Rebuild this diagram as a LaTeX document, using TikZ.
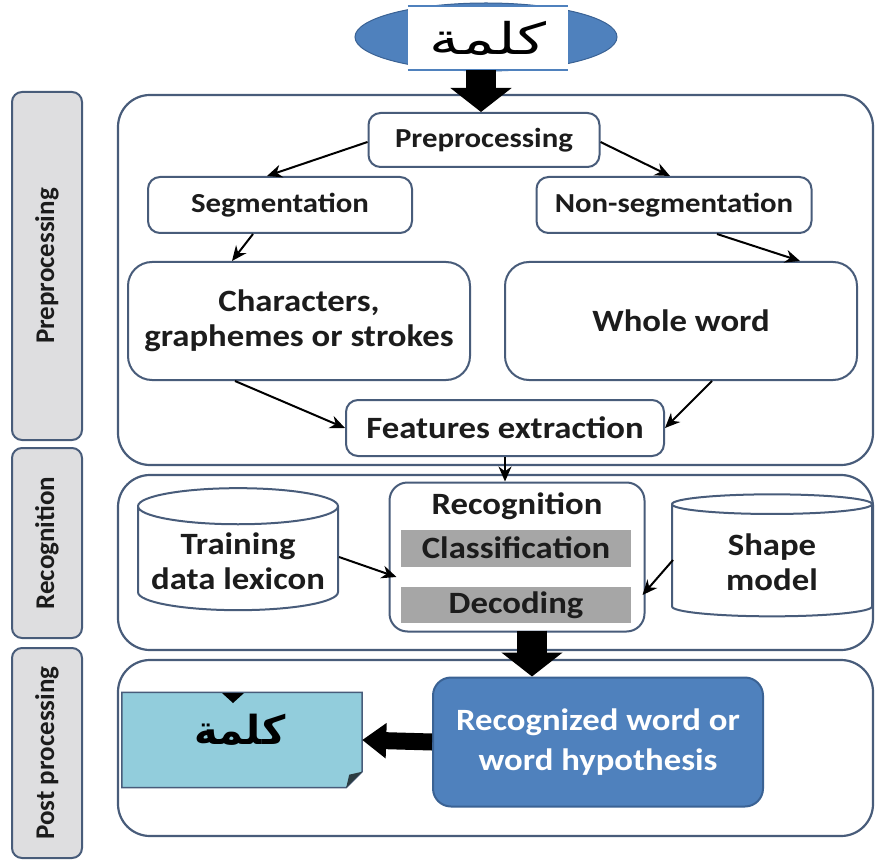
\documentclass[tikz,border=0pt]{standalone}
\usepackage{fontspec}
\setmainfont{Carlito}
\newfontfamily\boxfont{Carlito}[FakeStretch=1.12]
\newfontfamily\arabicfont[Script=Arabic]{DejaVu Sans}
\TeXXeTstate=1
\usetikzlibrary{shapes.geometric,arrows.meta,calc}

\definecolor{frame}{RGB}{72,92,122}
\definecolor{labelgray}{RGB}{222,222,224}
\definecolor{bargray}{RGB}{166,166,166}
\definecolor{docblue}{RGB}{146,205,220}
\definecolor{wordblue}{RGB}{79,129,189}
\definecolor{wordedge}{RGB}{58,98,148}
\definecolor{inkdark}{RGB}{28,28,28}

\newcommand{\smallbold}{\boxfont\bfseries\fontsize{27.5}{32}\selectfont}
\newcommand{\largebold}{\boxfont\bfseries\fontsize{31}{35}\selectfont}

\tikzset{
  container/.style={draw=frame, line width=2.2pt, rounded corners=32pt, fill=white},
  stage/.style={draw=frame, line width=2pt, rounded corners=10pt, fill=labelgray,
    rotate=90, text=inkdark, font=\bfseries\fontsize{27}{30}\selectfont},
  procbox/.style={draw=frame, line width=2pt, rounded corners=12pt, fill=white,
    text=inkdark, align=center, font=\smallbold},
  bigbox/.style={procbox, rounded corners=24pt, font=\largebold},
  bar/.style={fill=bargray, text=inkdark, font=\largebold},
  store/.style={cylinder, shape border rotate=90, aspect=0.2, draw=frame, line width=2pt,
    fill=white, text=inkdark, align=center, font=\largebold},
  flow/.style={-{Stealth[length=15pt,width=13pt]}, line width=2pt, black},
  block/.style={line width=#1, black, -{Triangle[length=24pt,width=2*#1]}},
}

\begin{document}
\begin{tikzpicture}[x=1pt,y=-1pt]
\useasboundingbox (0,0) rectangle (877,866);

% stage containers
\draw[container] (118,95) rectangle (873,465);
\draw[container] (118,475) rectangle (873,650);
\draw[container] (118,660) rectangle (873,836);

% stage labels
\node[stage, minimum width=348pt, minimum height=70pt] (lblpre) at (47,266) {Preprocessing};
\node[stage, minimum width=190pt, minimum height=70pt] (lblrec) at (47,543) {Recognition};
\node[stage, minimum width=210pt, minimum height=70pt] (lblpost) at (47,753) {Post processing};

% input word on its badge
\fill[wordblue, draw=wordedge, line width=1pt] (486,37) ellipse [x radius=131, y radius=34];
\node[fill=white, minimum width=160pt, minimum height=64pt, inner sep=0pt] (input) at (488,38)
  {\scalebox{1.6}[1.15]{\arabicfont\fontsize{38}{42}\selectfont\beginR كلمة\endR}};
\draw[wordblue, line width=1.8pt] (input.north west) -- (input.north east);
\draw[wordblue, line width=1.8pt] (input.south west) -- (input.south east);
\coordinate (inputbase) at (481,70);

% preprocessing stage
\node[procbox, minimum width=231pt, minimum height=54pt] (pre) at (484,140) {Preprocessing};
\node[procbox, minimum width=264pt, minimum height=56pt] (seg) at (280,205) {Segmentation};
\node[procbox, minimum width=275pt, minimum height=56pt] (nonseg) at (674,205) {Non-segmentation};
\node[bigbox, minimum width=342pt, minimum height=118pt] (chars) at (299,321) {Characters,\\graphemes or strokes};
\node[bigbox, minimum width=352pt, minimum height=118pt] (whole) at (681,321) {Whole word};
\node[procbox, font=\largebold, minimum width=318pt, minimum height=56pt] (feat) at (505,428) {Features extraction};

% recognition stage
\node[procbox, rounded corners=18pt, minimum width=255pt, minimum height=149pt] (recbox) at (517,557) {};
\node[text=inkdark, font=\largebold] (rectitle) at (517,506) {Recognition};
\node[bar, minimum width=230pt, minimum height=37pt] (classbar) at (516,548) {Classification};
\node[bar, minimum width=230pt, minimum height=36pt] (decbar) at (516,605) {Decoding};
\node[store, minimum width=200pt, minimum height=122pt] (train) at (238,561) {Training\\data lexicon};
\node[store, minimum width=200pt, minimum height=122pt] (shape) at (772,562) {Shape\\model};

% post processing stage
\node[draw=wordedge, line width=2pt, fill=wordblue, rounded corners=18pt, text=white,
  align=center, font=\boxfont\bfseries\fontsize{31}{40}\selectfont,
  minimum width=330pt, minimum height=129pt] (recword) at (598,742) {Recognized word or\\word hypothesis};
\node[minimum width=240pt, minimum height=95pt, inner sep=0pt] (doc) at (242,740) {};
\fill[docblue, draw=frame, line width=1.5pt]
  (doc.north west) -- (doc.north east) -- ($(doc.south east)+(0,-16)$)
  -- ($(doc.south east)+(-16,0)$) -- (doc.south west) -- cycle;
\fill[black!70!docblue] ($(doc.south east)+(0,-16)$) -- ($(doc.south east)+(-16,0)$)
  -- ($(doc.south east)+(-13,-13)$) -- cycle;
\fill[black] (222,693) -- (244,693) -- (233,703) -- cycle;
\node[text=black] (docword) at (240,730) {\arabicfont\bfseries\fontsize{40}{44}\selectfont\beginR كلمة\endR};

% thin connectors
\draw[flow] ($(pre.west)+(0,2)$) -- ($(seg.north)+(-13,0)$);
\draw[flow] ($(pre.east)+(0,2)$) -- ($(nonseg.north)+(-4,0)$);
\draw[flow] ($(seg.south)+(-27,0)$) -- ($(chars.north)+(-67,0)$);
\draw[flow] ($(nonseg.south)+(43,0)$) -- ($(whole.north)+(119,0)$);
\draw[flow] ($(chars.south)+(-64,0)$) -- (feat.west);
\draw[flow] ($(whole.south)+(31,0)$) -- (feat.east);
\draw[flow] (feat.south) -- (feat.south |- recbox.north);
\draw[flow] ($(train.east)+(0,-4)$) -- ($(recbox.west)+(8,20)$);
\draw[flow] ($(shape.west)+(2,-2)$) -- ($(recbox.east)+(-3,38)$);

% block arrows
\draw[block=30pt] (inputbase) -- (pre.north -| inputbase);
\draw[block=30pt] ($(recbox.south)+(15,-2)$) -- ($(recword.north)+(-66,0)$);
\draw[block=17pt] (recword.west) -- (doc.east);
\end{tikzpicture}
\end{document}
